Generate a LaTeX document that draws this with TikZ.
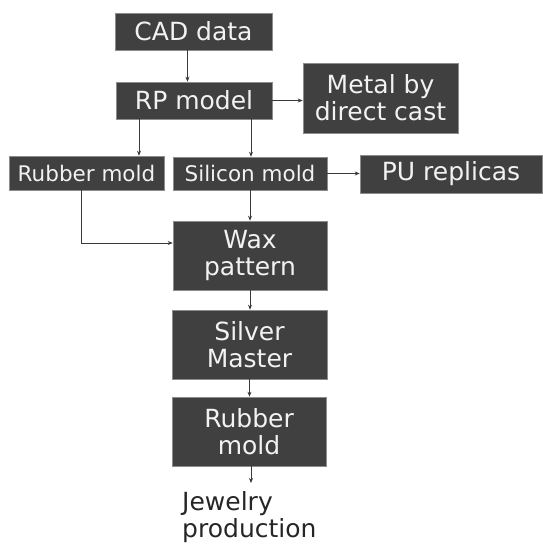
\documentclass[tikz,border=0pt]{standalone}
\usepackage{fontspec}
\setmainfont{DejaVu Sans}
\usepackage{xcolor}
\usepackage{tikz}
\usetikzlibrary{calc, positioning, arrows.meta}

\definecolor{boxfill}{HTML}{404040}
\definecolor{boxedge}{HTML}{8C8C8C}
\definecolor{boxtext}{HTML}{F2F2F2}
\definecolor{linegray}{HTML}{3A3A3A}

\begin{document}
\begin{tikzpicture}[>={Stealth[length=5pt, width=4pt]}, x=1pt, y=-1pt,
    stage/.style={draw=boxedge, line width=0.6pt, fill=boxfill, text=boxtext,
        inner sep=0pt, align=center, font=\fontsize{25}{27}\selectfont},
    smallstage/.style={stage, font=\fontsize{21.5}{24}\selectfont},
    flow/.style={->, draw=linegray, line width=0.6pt}]

    % =================================================================
    % 1. PAGE FRAME
    % =================================================================
    \useasboundingbox (0,0) rectangle (542,544);

    % =================================================================
    % 2. PROCESS BOXES
    % =================================================================
    \node[stage, minimum width=157pt, minimum height=37pt] (cad) at (193.5, 31.5) {CAD data};
    \node[stage, minimum width=156pt, minimum height=37pt] (rp) at (194, 100.5) {RP model};
    \node[stage, minimum width=155pt, minimum height=70pt] (metal) at (380.5, 98) {Metal by\\direct cast};

    \node[smallstage, minimum width=155pt, minimum height=34pt] (rubber) at (86.5, 173) {Rubber mold};
    \node[smallstage, minimum width=154pt, minimum height=33pt] (silicon) at (250, 173.5) {Silicon mold};
    \node[stage, minimum width=182pt, minimum height=38pt] (pu) at (451, 174) {PU replicas};

    \node[stage, minimum width=154pt, minimum height=69pt] (wax) at (250, 255.5) {Wax\\pattern};
    \node[stage, minimum width=155pt, minimum height=69pt] (silver) at (249.5, 344.5) {Silver\\Master};
    \node[stage, minimum width=154pt, minimum height=69pt] (mold) at (249, 431.5) {Rubber\\mold};

    % end product, plain text
    \node[anchor=north west, inner xsep=0pt, inner ysep=8pt, align=left, text=black!85,
        font=\fontsize{25}{27}\selectfont] (jewel) at (182, 483) {Jewelry\\production};

    % =================================================================
    % 3. ARROWS
    % =================================================================
    \draw[flow] ([xshift=-6pt]cad.south) -- ([xshift=-6pt]cad.south |- rp.north);
    \draw[flow] (rp.east) -- (rp.east -| metal.west);

    \draw[flow] ([xshift=-55pt]rp.south) -- ([xshift=-55pt]rp.south |- rubber.north);
    \draw[flow] ([xshift=57pt]rp.south) -- ([xshift=57pt]rp.south |- silicon.north);
    \draw[flow] (silicon.east) -- (silicon.east -| pu.west);

    \draw[flow] (silicon.south) -- (wax.north);
    \draw[flow] ([xshift=-5.5pt]rubber.south) |- ([yshift=12.5pt]wax.west);

    \draw[flow] (wax.south) -- (wax.south |- silver.north);
    \draw[flow] (silver.south) -- (silver.south |- mold.north);
    \draw[flow] ([xshift=2pt]mold.south) -- ([xshift=2pt]mold.south |- jewel.north);

\end{tikzpicture}
\end{document}
